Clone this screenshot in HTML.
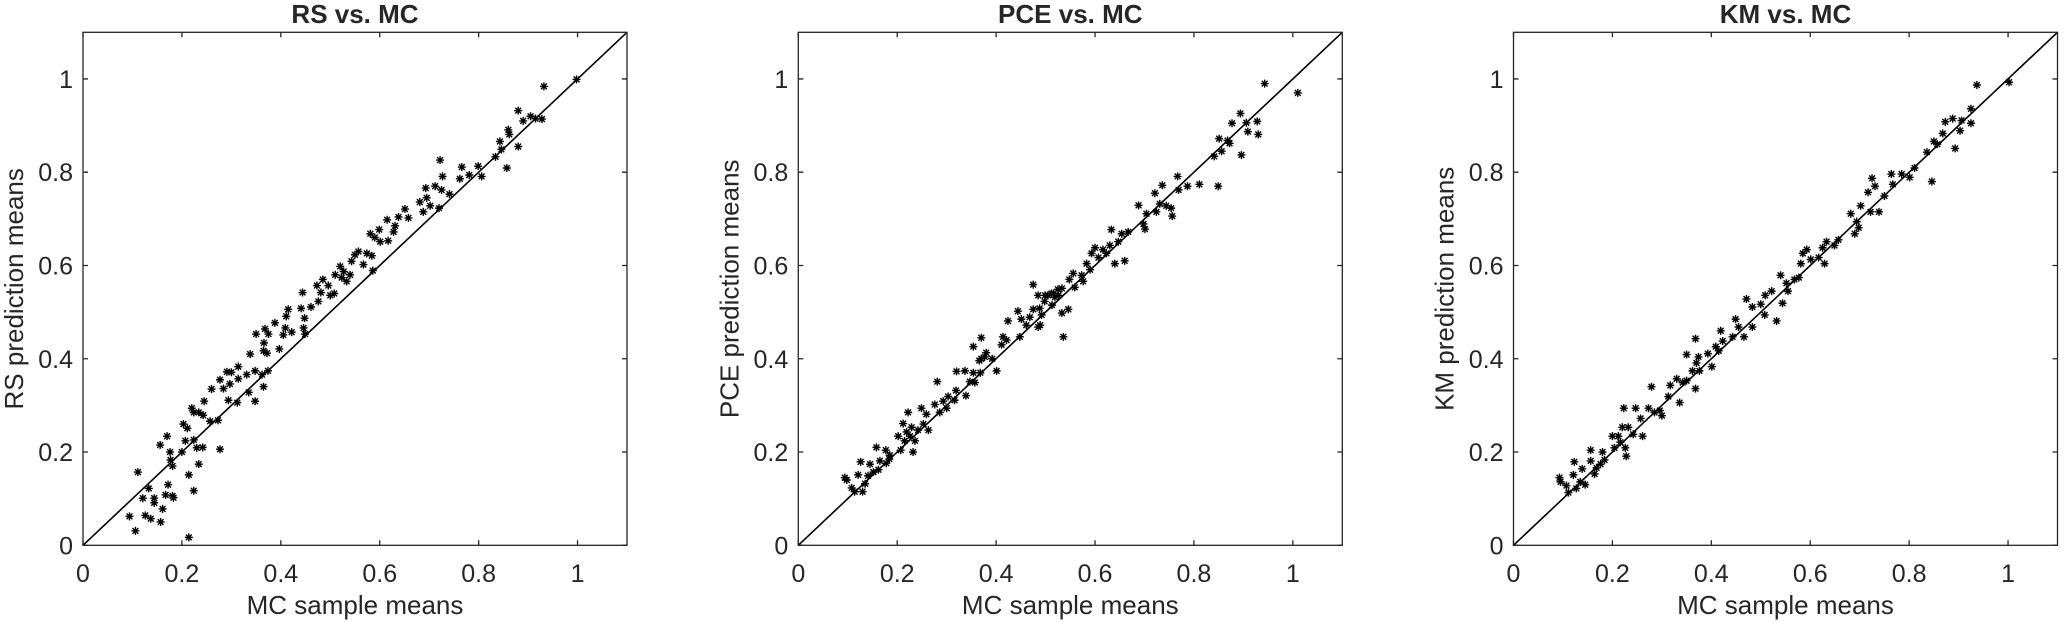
<!DOCTYPE html>
<html><head><meta charset="utf-8"><style>
html,body{margin:0;padding:0;background:#fff;}
svg{display:block;}
text{font-family:"Liberation Sans",Arial,sans-serif;fill:#262626;}
</style></head><body>
<svg id="fig" width="2067" height="622" viewBox="0 0 2067 622" xmlns="http://www.w3.org/2000/svg"></svg>
<script>
const tickValues = [0, 0.2, 0.4, 0.6, 0.8, 1];
const tickLabels = ["0", "0.2", "0.4", "0.6", "0.8", "1"];
const panelTitles = ["RS vs. MC", "PCE vs. MC", "KM vs. MC"];
const yLabels = ["RS prediction means", "PCE prediction means", "KM prediction means"];
const xLabel = "MC sample means";

const rsX = [.094,.106,.111,.121,.126,.133,.137,.144,.144,.157,.161,.156,.167,.170,.172,.176,.177,.181,.181,.183,.200,.203,.207,.214,.214,.211,.220,.224,.224,.224,.234,.230,.234,.243,.245,.242,.257,.260,.273,.277,.277,.284,.291,.294,.297,.300,.312,.314,.314,.331,.335,.338,.348,.350,.348,.362,.365,.365,.366,.368,.372,.375,.374,.388,.397,.405,.409,.411,.415,.422,.441,.444,.446,.449,.448,.461,.473,.476,.485,.481,.496,.500,.508,.510,.520,.523,.527,.533,.540,.543,.550,.557,.567,.574,.586,.584,.581,.590,.599,.601,.615,.617,.628,.631,.638,.651,.658,.681,.688,.693,.695,.702,.712,.720,.722,.725,.727,.741,.762,.766,.781,.799,.806,.834,.843,.846,.857,.860,.862,.880,.880,.890,.905,.915,.928,.932,.998];
const rsY = [.062,.031,.157,.101,.064,.122,.057,.091,.101,.050,.078,.215,.108,.234,.130,.200,.183,.170,.106,.102,.200,.260,.224,.017,.151,.251,.294,.117,.285,.226,.174,.209,.285,.279,.309,.210,.266,.335,.268,.206,.355,.336,.372,.311,.346,.371,.306,.383,.357,.366,.328,.410,.309,.453,.374,.366,.340,.417,.434,.464,.412,.453,.374,.477,.421,.451,.466,.491,.506,.457,.508,.542,.466,.453,.487,.511,.557,.523,.570,.542,.557,.536,.540,.580,.598,.574,.587,.566,.580,.609,.623,.630,.602,.626,.589,.621,.668,.660,.677,.651,.698,.653,.672,.685,.704,.721,.702,.736,.715,.766,.745,.728,.770,.723,.826,.762,.791,.753,.786,.811,.794,.813,.791,.833,.866,.849,.809,.891,.881,.932,.855,.910,.920,.915,.914,.984,.999];

const pceX = [.094,.098,.108,.114,.121,.126,.130,.135,.141,.145,.152,.158,.162,.165,.177,.178,.184,.185,.202,.207,.212,.215,.219,.222,.226,.229,.232,.236,.242,.249,.253,.263,.259,.276,.281,.286,.293,.300,.303,.316,.319,.320,.337,.339,.347,.354,.354,.357,.366,.368,.370,.370,.377,.380,.392,.401,.411,.414,.421,.424,.444,.448,.451,.461,.468,.475,.475,.485,.485,.488,.498,.505,.512,.519,.525,.489,.492,.499,.513,.516,.526,.533,.536,.546,.533,.548,.556,.559,.573,.576,.583,.590,.593,.600,.607,.616,.623,.630,.633,.640,.647,.654,.660,.667,.688,.698,.701,.704,.721,.724,.731,.736,.744,.754,.756,.767,.769,.787,.811,.841,.851,.856,.849,.868,.872,.877,.894,.896,.906,.909,.928,.930,.943,1.010];
const pceY = [.145,.140,.123,.115,.151,.179,.115,.132,.149,.174,.157,.210,.162,.181,.204,.176,.185,.193,.234,.204,.261,.224,.243,.285,.234,.253,.200,.224,.247,.294,.260,.247,.281,.302,.351,.285,.309,.294,.319,.311,.332,.373,.374,.321,.351,.426,.370,.349,.396,.370,.445,.400,.404,.413,.400,.374,.430,.447,.440,.481,.502,.447,.485,.472,.489,.506,.559,.468,.536,.508,.523,.536,.540,.532,.549,.472,.494,.536,.515,.540,.536,.498,.447,.506,.551,.570,.583,.553,.579,.566,.604,.591,.626,.638,.617,.634,.626,.643,.677,.604,.651,.668,.610,.672,.729,.689,.678,.711,.755,.715,.732,.772,.728,.723,.706,.791,.762,.770,.774,.834,.872,.845,.770,.868,.862,.905,.926,.837,.906,.887,.909,.881,.990,.970];

const kmX = [.093,.095,.107,.111,.121,.123,.127,.135,.139,.145,.156,.156,.164,.168,.176,.180,.184,.200,.204,.212,.216,.220,.223,.226,.228,.232,.242,.247,.257,.261,.273,.279,.285,.296,.300,.313,.317,.330,.336,.342,.350,.350,.362,.368,.368,.370,.374,.376,.393,.401,.409,.415,.419,.423,.443,.449,.455,.466,.471,.483,.483,.500,.508,.509,.522,.532,.540,.544,.552,.555,.568,.577,.581,.585,.593,.601,.617,.625,.629,.633,.649,.657,.682,.690,.694,.698,.702,.717,.722,.725,.731,.739,.750,.764,.767,.785,.801,.811,.836,.846,.850,.857,.868,.873,.888,.893,.903,.906,.925,.925,.937,1.002];
const kmY = [.145,.136,.128,.113,.151,.179,.122,.136,.164,.130,.204,.181,.153,.166,.174,.200,.183,.234,.209,.234,.221,.253,.294,.209,.191,.253,.238,.294,.272,.234,.294,.340,.285,.289,.278,.319,.343,.357,.306,.349,.409,.353,.374,.443,.336,.391,.404,.374,.411,.383,.426,.417,.460,.438,.447,.485,.468,.447,.528,.511,.468,.517,.494,.536,.545,.481,.579,.519,.562,.545,.570,.574,.604,.626,.634,.613,.617,.638,.604,.651,.643,.655,.711,.668,.694,.681,.728,.757,.715,.787,.770,.715,.749,.796,.774,.796,.789,.809,.843,.780,.866,.860,.883,.908,.915,.851,.889,.911,.936,.905,.987,.993];

const seriesX = [rsX, pceX, kmX];
const seriesY = [rsY, pceY, kmY];
const panelLeft = [83, 798.3, 1513.5];
const W = 544, TOP = 32.3, BOT = 545.3, XMAX = 1.1, YMAX = 1.1;
const NS = "http://www.w3.org/2000/svg";
const svg = document.getElementById('fig');

function mk(tag, attrs, parent) {
  const e = document.createElementNS(NS, tag);
  for (const k in attrs) e.setAttribute(k, attrs[k]);
  (parent || svg).appendChild(e);
  return e;
}

for (let p = 0; p < 3; p++) {
  const L = panelLeft[p], R = L + W;
  const sx = v => L + v / XMAX * W;
  const sy = v => BOT - v / YMAX * (BOT - TOP);
  const g = mk('g', {});
  
  

  // ticks
  tickValues.forEach((v, i) => {
    const x = sx(v), y = sy(v);
    const t1 = mk('path', {d: `M${x},${BOT}v-5M${x},${TOP}v5M${L},${y}h5M${R},${y}h-5`, stroke: '#262626', 'stroke-width': 1.3, fill: 'none'}, g);
    
    
    const xl = mk('text', {x: x, y: 582, 'font-size': 25, 'text-anchor': 'middle'}, g);
    xl.textContent = tickLabels[i];
    
    
    const yl = mk('text', {x: L - 10, y: y + 9, 'font-size': 25, 'text-anchor': 'end'}, g);
    yl.textContent = tickLabels[i];
    
    
  });

  // diagonal reference line
  const diag = mk('line', {x1: sx(0), y1: sy(0), x2: sx(1.1), y2: sy(1.1), stroke: '#000', 'stroke-width': 1.6}, g);
  
  

  // points
  const xs = seriesX[p], ys = seriesY[p];
  for (let i = 0; i < xs.length; i++) {
    const cx = sx(xs[i]), cy = sy(ys[i]), r = 4, d = 2.9;
    const m = mk('path', {d: `M${cx-r},${cy}h${2*r}M${cx},${cy-r}v${2*r}M${cx-d},${cy-d}l${2*d},${2*d}M${cx-d},${cy+d}l${2*d},${-2*d}`, stroke: '#000', 'stroke-width': 1.4, fill: 'none'}, g);
    
    
  }

  // frame
  const fr = mk('rect', {x: L, y: TOP, width: W, height: BOT - TOP, fill: 'none', stroke: '#262626', 'stroke-width': 1.3}, g);
  
  

  const title = mk('text', {x: L + W / 2, y: 23, 'font-size': 26, 'font-weight': 'bold', 'text-anchor': 'middle', fill: '#000'}, g);
  title.textContent = panelTitles[p];
  
  

  const xlab = mk('text', {x: L + W / 2, y: 614, 'font-size': 26, 'text-anchor': 'middle'}, g);
  xlab.textContent = xLabel;
  
  

  const cy = (TOP + BOT) / 2, lx = L - 60;
  const ylab = mk('text', {x: lx, y: cy, 'font-size': 26, 'text-anchor': 'middle', transform: `rotate(-90 ${lx} ${cy})`}, g);
  ylab.textContent = yLabels[p];
  
  
}
</script>
</body></html>
